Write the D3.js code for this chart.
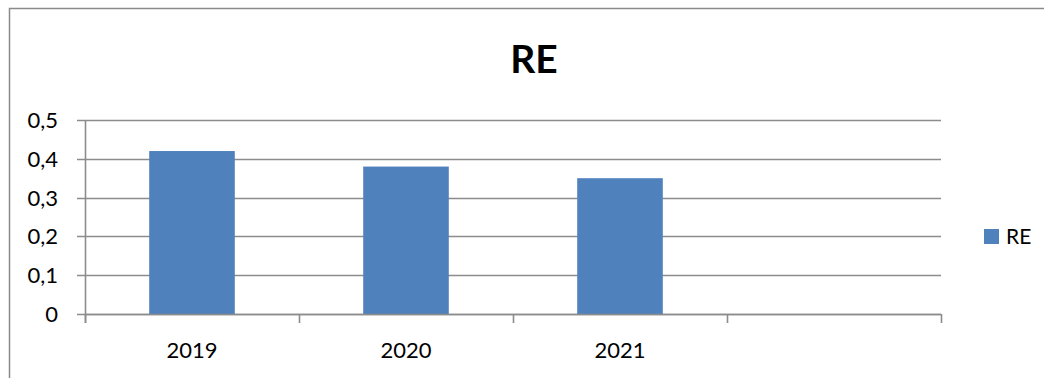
<!DOCTYPE html>
<html><head><meta charset="utf-8">
<script src="https://cdn.jsdelivr.net/npm/d3@7"></script>
<style>body{margin:0;background:#fff;} svg{display:block;}</style>
</head><body>
<script>
const categories = ["2019", "2020", "2021", ""];
const values = [0.42, 0.38, 0.35, null];
const yTicks = [0, 0.1, 0.2, 0.3, 0.4, 0.5];
const seriesName = "RE";
const title = "RE";

(function () {
const W = 1044, H = 378;
const font = "Lato, 'Open Sans', sans-serif";
const svg = d3.select("body").append("svg").attr("width", W).attr("height", H);

// outer frame (left & top visible)
svg.append("path").attr("d", `M9.5,${H} L9.5,8.5 L${W},8.5`).attr("fill","none").attr("stroke","#8a8a8a").attr("stroke-width",1.5);

const pLeft = 85, pRight = 941, pTop = 120, pBottom = 314;
const x = d3.scaleBand().domain(categories.map((c,i)=>i)).range([pLeft, pRight]).paddingInner(0).paddingOuter(0);
const y = d3.scaleLinear().domain([0, 0.5]).range([pBottom, pTop]);
const grid = "#8c8c8c";
const fmt = d => d3.format(".1f")(d).replace(".", ",");

// gridlines
svg.append("g").selectAll("line").data(yTicks).join("line")
  .attr("x1", pLeft - 8).attr("x2", pRight)
  .attr("y1", d => Math.round(y(d)) + 0.5).attr("y2", d => Math.round(y(d)) + 0.5)
  .attr("stroke", grid).attr("stroke-width", 1.6);

svg.append("g").selectAll("text").data(yTicks).join("text")
  .attr("x", 58).attr("y", d => y(d) + 8)
  .attr("text-anchor", "end").attr("font-family", font).attr("font-size", 22).attr("fill", "#000")
  .text(d => d === 0 ? "0" : fmt(d));

// bars
const bw = x.bandwidth() * 0.4;
svg.append("g").selectAll("rect").data(values.map((v,i)=>({v,i})).filter(d=>d.v!=null)).join("rect")
  .attr("x", d => x(d.i) + (x.bandwidth() - bw) / 2)
  .attr("width", bw)
  .attr("y", d => y(d.v))
  .attr("height", d => y(0) - y(d.v))
  .attr("fill", "#4F81BD");

// y axis line
svg.append("line").attr("x1", pLeft + 0.5).attr("x2", pLeft + 0.5).attr("y1", pTop).attr("y2", pBottom + 9)
  .attr("stroke", grid).attr("stroke-width", 1.6);
// x axis line
svg.append("line").attr("x1", pLeft).attr("x2", pRight).attr("y1", pBottom + 0.5).attr("y2", pBottom + 0.5)
  .attr("stroke", grid).attr("stroke-width", 1.6);
// x ticks
const tickXs = categories.map((c,i)=>x(i)).concat([pRight]);
svg.append("g").selectAll("line").data(tickXs).join("line")
  .attr("x1", d => Math.round(d) + 0.5).attr("x2", d => Math.round(d) + 0.5)
  .attr("y1", pBottom).attr("y2", pBottom + 9)
  .attr("stroke", grid).attr("stroke-width", 1.6);

// x labels
svg.append("g").selectAll("text").data(categories.map((c,i)=>({c,i}))).join("text")
  .attr("x", d => x(d.i) + x.bandwidth() / 2).attr("y", 358)
  .attr("text-anchor", "middle").attr("font-family", font).attr("font-size", 22).attr("fill", "#000")
  .text(d => d.c);

// title
svg.append("text").attr("x", 534).attr("y", 73).attr("text-anchor", "middle")
  .attr("font-family", font).attr("font-weight", "bold").attr("font-size", 39).attr("fill", "#000")
  .text(title);

// legend
svg.append("rect").attr("x", 984).attr("y", 229).attr("width", 15).attr("height", 15).attr("fill", "#4F81BD");
svg.append("text").attr("x", 1006).attr("y", 244).attr("font-family", font).attr("font-size", 21).attr("fill", "#000").text(seriesName);
})();
</script>
</body></html>
